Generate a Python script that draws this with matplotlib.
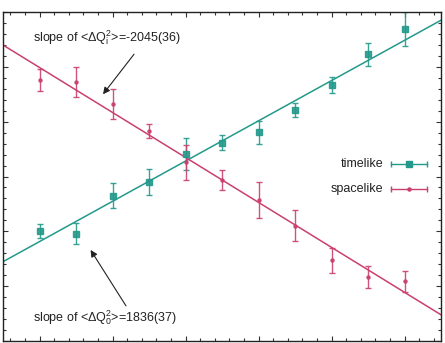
import matplotlib
matplotlib.use("Agg")
import matplotlib.pyplot as plt
import numpy as np
from matplotlib.ticker import MultipleLocator, NullFormatter

plt.rcParams['font.family'] = ['Liberation Sans', 'DejaVu Sans']
plt.rcParams['mathtext.fontset'] = 'custom'
plt.rcParams['mathtext.rm'] = 'Liberation Sans'
plt.rcParams['mathtext.it'] = 'Liberation Sans'

# data
x_pts = [1, 2, 3, 4, 5, 6, 7, 8, 9, 10, 11]
timelike_y = [2.00, 1.96, 2.65, 2.90, 3.41, 3.62, 3.81, 4.21, 4.67, 5.23, 5.69]
timelike_err = [0.13, 0.20, 0.23, 0.23, 0.30, 0.13, 0.21, 0.13, 0.15, 0.21, 0.31]
spacelike_y = [4.76, 4.72, 4.32, 3.83, 3.26, 2.93, 2.57, 2.10, 1.47, 1.17, 1.09]
spacelike_err = [0.20, 0.27, 0.27, 0.13, 0.32, 0.18, 0.33, 0.28, 0.23, 0.20, 0.19]
timelike_fit = [0.367, 1.446]    # slope, intercept
spacelike_fit = [-0.410, 5.398]  # slope, intercept
labels = ["timelike", "spacelike"]
slope_texts = [r"slope of <$\Delta$Q$_{\rm i}^{\rm 2}$>=-2045(36)",
               r"slope of <$\Delta$Q$_{\rm 0}^{\rm 2}$>=1836(37)"]

teal = "#23998b"
pink = "#c9406f"

fig = plt.figure(figsize=(4.45, 3.43), dpi=100)
ax = fig.add_axes([3/445, 2/343, 438/445, 329/343])
ax.set_xlim(0, 12)
ax.set_ylim(0, 6)

xx = np.array(ax.get_xlim())
ax.plot(xx, np.polyval(timelike_fit, xx), color=teal, lw=1.1)
ax.plot(xx, np.polyval(spacelike_fit, xx), color=pink, lw=1.1)

ax.errorbar(x_pts, timelike_y, yerr=timelike_err, fmt='s', color=teal, ms=4,
            ecolor=teal, elinewidth=1.0, capsize=2.5, capthick=1.0, alpha=0.9)
ax.errorbar(x_pts, spacelike_y, yerr=spacelike_err, fmt='o', color=pink, ms=2.2,
            ecolor=pink, elinewidth=1.0, capsize=2.5, capthick=1.0, alpha=0.9)

# annotations
ax.text(0.82, 5.53, slope_texts[0], fontsize=9, ha='left', va='center', color='#222222')
ax.text(0.82, 0.42, slope_texts[1], fontsize=9, ha='left', va='center', color='#222222')
ax.annotate("", xy=(2.74, 4.50), xytext=(3.59, 5.23),
            arrowprops=dict(arrowstyle='-|>', color='#222222', lw=0.8,
                            mutation_scale=10, shrinkA=0, shrinkB=0))
ax.annotate("", xy=(2.40, 1.66), xytext=(3.37, 0.64),
            arrowprops=dict(arrowstyle='-|>', color='#222222', lw=0.8,
                            mutation_scale=10, shrinkA=0, shrinkB=0))

# manual gnuplot-style legend
tr = ax.transAxes
for lab, col, mk, ms, ly in [(labels[0], teal, 's', 4, 0.537),
                             (labels[1], pink, 'o', 2.2, 0.462)]:
    ax.text(0.868, ly, lab, transform=tr, fontsize=9, ha='right', va='center', color='#222222')
    ax.plot([0.886, 0.968], [ly, ly], transform=tr, color=col, lw=1.0)
    ax.plot([0.886, 0.968], [ly, ly], transform=tr, color=col, lw=0, marker='|', ms=5, mew=1.0)
    ax.plot([0.927], [ly], transform=tr, color=col, marker=mk, ms=ms, lw=0)

ax.xaxis.set_major_locator(MultipleLocator(2, offset=1))
ax.xaxis.set_minor_locator(MultipleLocator(0.4, offset=0.2))
ax.yaxis.set_major_locator(MultipleLocator(1))
ax.yaxis.set_minor_locator(MultipleLocator(0.2))
ax.xaxis.set_major_formatter(NullFormatter())
ax.yaxis.set_major_formatter(NullFormatter())
ax.tick_params(which='both', direction='in', top=True, right=True, color='#333333', width=0.8)
ax.tick_params(which='major', length=3.5)
ax.tick_params(which='minor', length=2)
for s in ax.spines.values():
    s.set_color('#222222')
    s.set_linewidth(1.0)

fig.savefig("out.png", dpi=100)
